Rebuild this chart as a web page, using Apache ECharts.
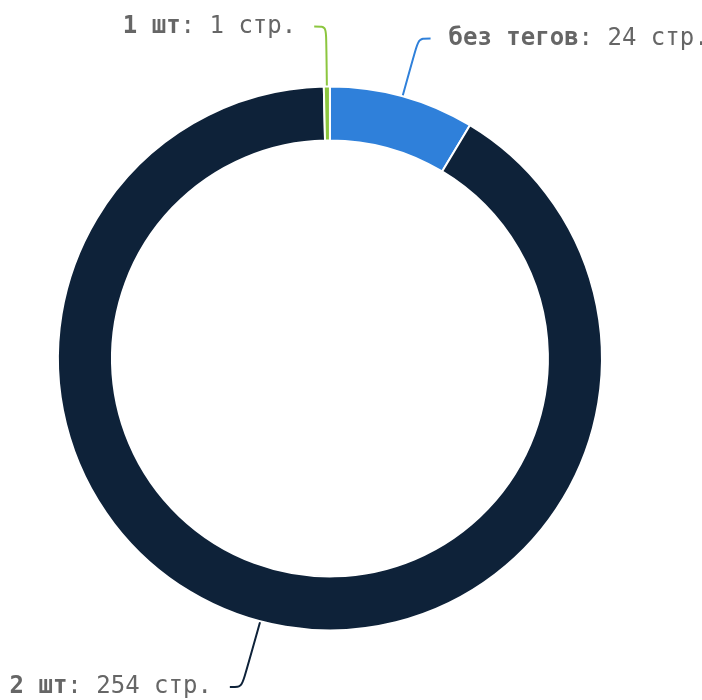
<!DOCTYPE html>
<html>
<head>
<meta charset="utf-8">
<script src="https://cdn.jsdelivr.net/npm/echarts@6/dist/echarts.min.js"></script>
<style>
  html, body { margin: 0; padding: 0; background: #fff; }
  #chart { width: 702px; height: 700px; }
</style>
</head>
<body>
<div id="chart"></div>
<script>
const names = ['без тегов', '2 шт', '1 шт'];
const pages = [24, 254, 1];
const colors = ['#2f80da', '#0e2239', '#8cc63f'];

const chart = echarts.init(document.getElementById('chart'));

const option = {
    animation: false,
    series: [{
        type: 'pie',
        center: ['47%', '51.2%'],
        radius: [218, 272],
        startAngle: 90,
        clockwise: true,
        itemStyle: {
            borderColor: '#fff',
            borderWidth: 2
        },
        label: {
            show: true,
            overflow: 'none',
            fontFamily: 'DejaVu Sans Mono',
            fontSize: 24,
            color: '#666',
            distanceToLabelLine: 18,
            formatter: '{n|{b}}: {c} стр.',
            rich: {
                n: {
                    fontFamily: 'DejaVu Sans Mono',
                    fontSize: 24,
                    fontWeight: 'bold',
                    color: '#666'
                }
            }
        },
        labelLine: {
            show: true,
            smooth: true,
            length: 60,
            length2: 12,
            lineStyle: { width: 2 }
        },
        data: names.map(function (n, i) {
            const item = {
                name: n,
                value: pages[i],
                itemStyle: { color: colors[i] }
            };
            // bottom label sits a bit further out
            if (i === 1) item.labelLine = { length: 72 };
            return item;
        })
    }]
};
chart.setOption(option);
</script>
</body>
</html>
